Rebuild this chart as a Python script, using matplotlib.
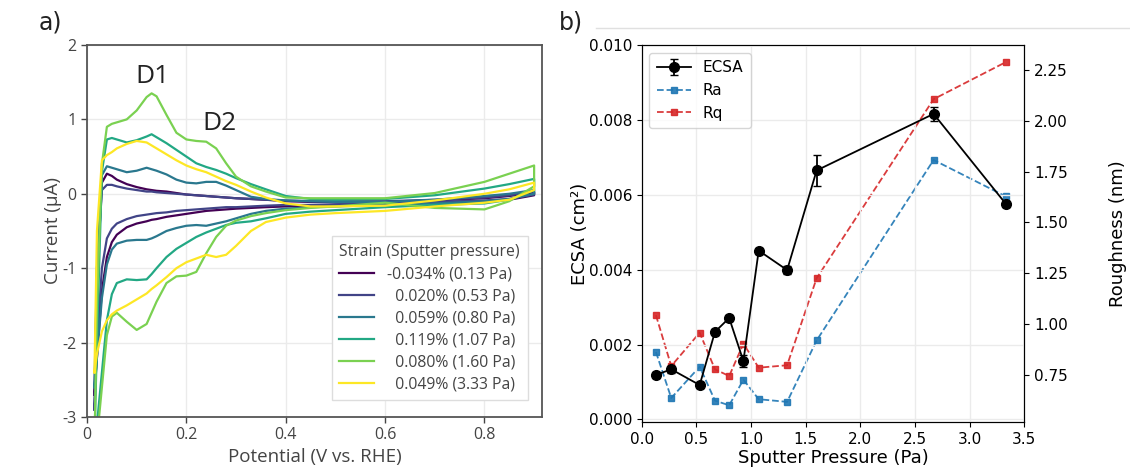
import numpy as np
import matplotlib
matplotlib.use("Agg")
import matplotlib.pyplot as plt
from matplotlib.lines import Line2D
from matplotlib.ticker import MultipleLocator, FuncFormatter

plt.rcParams['axes.unicode_minus'] = False

# ---------------- Panel a) data: cyclic voltammograms ----------------
potential = [0.015, 0.02, 0.03, 0.04, 0.05, 0.06, 0.08, 0.10, 0.12, 0.13, 0.14,
             0.16, 0.18, 0.20, 0.22, 0.24, 0.26, 0.28, 0.30, 0.33, 0.36, 0.40,
             0.45, 0.50, 0.60, 0.70, 0.80, 0.85, 0.90]

cv_labels = ["-0.034% (0.13 Pa)", "  0.020% (0.53 Pa)", "  0.059% (0.80 Pa)",
             "  0.119% (1.07 Pa)", "  0.080% (1.60 Pa)", "  0.049% (3.33 Pa)"]
cv_colors = ["#440154", "#414487", "#2a788e", "#22a884", "#7ad151", "#fde725"]

# anodic (upper) branches, current in µA at each potential
up_013 = [-2.7, -1.2, 0.15, 0.27, 0.24, 0.19, 0.13, 0.09, 0.06, 0.05, 0.04, 0.03, 0.01, -0.01,
          -0.02, -0.03, -0.04, -0.05, -0.06, -0.07, -0.08, -0.10, -0.11, -0.11, -0.11, -0.09,
          -0.06, -0.03, 0.02]
up_053 = [-2.9, -1.0, 0.05, 0.12, 0.12, 0.10, 0.07, 0.05, 0.03, 0.03, 0.02, 0.01, 0.0, -0.01,
          -0.02, -0.03, -0.04, -0.05, -0.06, -0.07, -0.08, -0.09, -0.10, -0.10, -0.10, -0.08,
          -0.05, -0.02, 0.03]
up_080 = [-2.6, -1.0, 0.25, 0.37, 0.35, 0.33, 0.29, 0.31, 0.35, 0.33, 0.31, 0.26, 0.19, 0.15,
          0.14, 0.16, 0.16, 0.11, 0.05, -0.04, -0.07, -0.09, -0.10, -0.11, -0.11, -0.08,
          -0.03, 0.0, 0.05]
up_107 = [-3.3, -2.0, 0.3, 0.73, 0.75, 0.73, 0.69, 0.72, 0.77, 0.80, 0.76, 0.68, 0.59, 0.50,
          0.41, 0.36, 0.32, 0.27, 0.21, 0.13, 0.06, -0.03, -0.07, -0.08, -0.07, -0.02,
          0.07, 0.13, 0.20]
up_160 = [-3.4, -1.5, 0.4, 0.90, 0.94, 0.96, 1.00, 1.12, 1.30, 1.35, 1.31, 1.06, 0.82, 0.73,
          0.71, 0.70, 0.61, 0.41, 0.23, 0.10, 0.03, -0.05, -0.06, -0.06, -0.06, 0.01,
          0.16, 0.27, 0.38]
up_333 = [-2.4, -0.5, 0.45, 0.52, 0.56, 0.61, 0.67, 0.71, 0.69, 0.65, 0.61, 0.53, 0.45, 0.38,
          0.33, 0.29, 0.23, 0.17, 0.12, 0.03, -0.05, -0.13, -0.17, -0.17, -0.16, -0.09,
          0.0, 0.06, 0.15]

# cathodic (lower) branches, same potentials (listed from low to high potential)
down_013 = [-2.7, -2.2, -1.3, -0.85, -0.65, -0.55, -0.45, -0.40, -0.37, -0.35, -0.34, -0.31,
            -0.29, -0.27, -0.25, -0.23, -0.22, -0.21, -0.20, -0.19, -0.18, -0.17, -0.16,
            -0.15, -0.14, -0.12, -0.10, -0.08, -0.02]
down_053 = [-2.9, -2.0, -1.0, -0.60, -0.47, -0.40, -0.34, -0.30, -0.28, -0.27, -0.26, -0.25,
            -0.23, -0.22, -0.21, -0.20, -0.19, -0.18, -0.18, -0.17, -0.16, -0.15, -0.15,
            -0.14, -0.13, -0.11, -0.09, -0.07, -0.01]
down_080 = [-2.6, -2.2, -1.4, -0.95, -0.75, -0.67, -0.63, -0.62, -0.62, -0.60, -0.57, -0.50,
            -0.46, -0.43, -0.42, -0.43, -0.40, -0.37, -0.33, -0.27, -0.23, -0.20, -0.18,
            -0.17, -0.15, -0.13, -0.10, -0.07, 0.0]
down_107 = [-3.3, -3.1, -2.4, -1.7, -1.35, -1.20, -1.15, -1.16, -1.15, -1.08, -1.0, -0.85,
            -0.74, -0.66, -0.58, -0.52, -0.47, -0.42, -0.39, -0.37, -0.33, -0.27, -0.24,
            -0.22, -0.18, -0.15, -0.13, -0.08, 0.05]
down_160 = [-3.4, -3.3, -2.6, -1.9, -1.65, -1.60, -1.72, -1.83, -1.75, -1.60, -1.45, -1.20,
            -1.11, -1.10, -1.05, -0.80, -0.58, -0.43, -0.36, -0.30, -0.26, -0.22, -0.19,
            -0.17, -0.12, -0.19, -0.21, -0.10, 0.10]
down_333 = [-2.4, -2.15, -1.85, -1.70, -1.62, -1.57, -1.50, -1.42, -1.34, -1.28, -1.23, -1.12,
            -1.0, -0.92, -0.87, -0.82, -0.85, -0.82, -0.70, -0.50, -0.38, -0.32, -0.28,
            -0.26, -0.23, -0.17, -0.12, -0.08, 0.05]

cv_up = [up_013, up_053, up_080, up_107, up_160, up_333]
cv_down = [down_013, down_053, down_080, down_107, down_160, down_333]

# ---------------- Panel b) data ----------------
pressure = [0.13, 0.27, 0.53, 0.67, 0.80, 0.93, 1.07, 1.33, 1.60, 2.67, 3.33]
ecsa = [0.00119, 0.00134, 0.00092, 0.00234, 0.00271, 0.00156, 0.00451, 0.00399,
        0.00665, 0.00816, 0.00576]
ecsa_err = [0.00008, 0.0001, 0.00008, 0.00008, 0.00008, 0.00016, 0.00008, 0.0001,
            0.00042, 0.00018, 0.00008]
ra = [0.863, 0.637, 0.791, 0.624, 0.601, 0.727, 0.631, 0.618, 0.920, 1.807, 1.628]
rq = [1.044, 0.794, 0.958, 0.778, 0.745, 0.904, 0.786, 0.798, 1.226, 2.106, 2.288]

# ---------------- Figure ----------------
fig = plt.figure(figsize=(11.3, 4.7), dpi=100)

# ---- panel a ----
lf = ['Open Sans', 'DejaVu Sans']
gray = '#444444'
ax = fig.add_axes([0.0770, 0.1128, 0.4027, 0.7915])
V = np.array(potential)
for up, down, col, lab in zip(cv_up, cv_down, cv_colors, cv_labels):
    x = np.concatenate([V, V[::-1]])
    y = np.concatenate([np.array(up), np.array(down)[::-1]])
    ax.plot(x, y, color=col, lw=1.6, label=lab, solid_joinstyle='round')
ax.set_xlim(0, 0.916)
ax.set_ylim(-3, 2)
ax.set_xticks([0, 0.2, 0.4, 0.6, 0.8])
ax.set_yticks([2, 1, 0, -1, -2, -3])
ax.xaxis.set_major_formatter(FuncFormatter(lambda v, p: f"{v:g}"))
ax.yaxis.set_major_formatter(FuncFormatter(lambda v, p: f"{v:g}"))
ax.grid(True, color='#ebebeb', lw=1.0)
ax.set_axisbelow(True)
for s in ax.spines.values():
    s.set_color('#555555')
    s.set_linewidth(1.3)
ax.tick_params(colors=gray, labelsize=11.5, length=4, width=1)
for t in ax.get_xticklabels() + ax.get_yticklabels():
    t.set_family(lf)
ax.set_xlabel("Potential (V vs. RHE)", fontsize=13.5, color=gray, family=lf, labelpad=3)
ax.set_ylabel("Current (µA)", fontsize=13.5, color=gray, family=lf, labelpad=0)
ax.text(0.131, 1.57, "D1", fontsize=19, color='#222222', family=lf, ha='center', va='center')
ax.text(0.267, 0.95, "D2", fontsize=19, color='#222222', family=lf, ha='center', va='center')
leg = ax.legend(loc='lower right', bbox_to_anchor=(0.969, 0.046), borderaxespad=0,
                title="Strain (Sputter pressure)", fancybox=False, framealpha=1,
                edgecolor='#dddddd', prop={'family': lf, 'size': 11.3},
                title_fontproperties={'family': lf, 'size': 11.3},
                handlelength=2.2, labelspacing=0.38, borderpad=0.5)
leg._legend_box.align = "left"
for t in leg.get_texts():
    t.set_color(gray)
leg.get_title().set_color(gray)
fig.text(0.034, 0.953, "a)", fontsize=17, ha='left', va='center', color='#222222')

# ---- panel b ----
bx = fig.add_axes([0.5679, 0.1011, 0.3386, 0.8032])
bx2 = bx.twinx()
eb = bx.errorbar(pressure, ecsa, yerr=ecsa_err, color='black', marker='o', ms=7,
                 lw=1.3, capsize=3, label='ECSA', zorder=3)
l1, = bx2.plot(pressure, ra, color='#1f77b4', ls='--', marker='s', ms=5, lw=1.3,
               label='Ra', alpha=0.9)
l2, = bx2.plot(pressure, rq, color='#d62728', ls='--', marker='s', ms=5, lw=1.3,
               label='Rq', alpha=0.9)
bx.set_zorder(bx2.get_zorder() + 1)
bx.patch.set_visible(False)
bx.set_xlim(0, 3.5)
bx.set_ylim(-0.00008, 0.010)
bx.yaxis.set_major_locator(MultipleLocator(0.002))
bx.yaxis.set_major_formatter(FuncFormatter(lambda v, p: f"{v:.3f}"))
bx2.yaxis.set_major_locator(MultipleLocator(0.25))
bx2.yaxis.set_major_formatter(FuncFormatter(lambda v, p: f"{v:.2f}"))
bx.grid(True, color='#ebebeb', lw=1.0)
bx.tick_params(labelsize=11)
bx2.tick_params(labelsize=11)
bx.set_xlabel("Sputter Pressure (Pa)", fontsize=13, labelpad=1)
bx.set_ylabel("ECSA (cm²)", fontsize=13, labelpad=0)
bx2.set_ylabel("Roughness (nm)", fontsize=13, labelpad=30)
bx.legend([eb, l1, l2], ['ECSA', 'Ra', 'Rq'], loc='upper left', fontsize=11,
          handlelength=2.2, borderpad=0.5, labelspacing=0.5, fancybox=True)
fig.text(0.495, 0.953, "b)", fontsize=17, ha='left', va='center', color='#222222')
fig.add_artist(Line2D([0.527, 1.0], [1 - 28 / 470, 1 - 28 / 470], transform=fig.transFigure,
                      color='#e0e0e0', lw=1))

fig.savefig("out.png", dpi=100)
